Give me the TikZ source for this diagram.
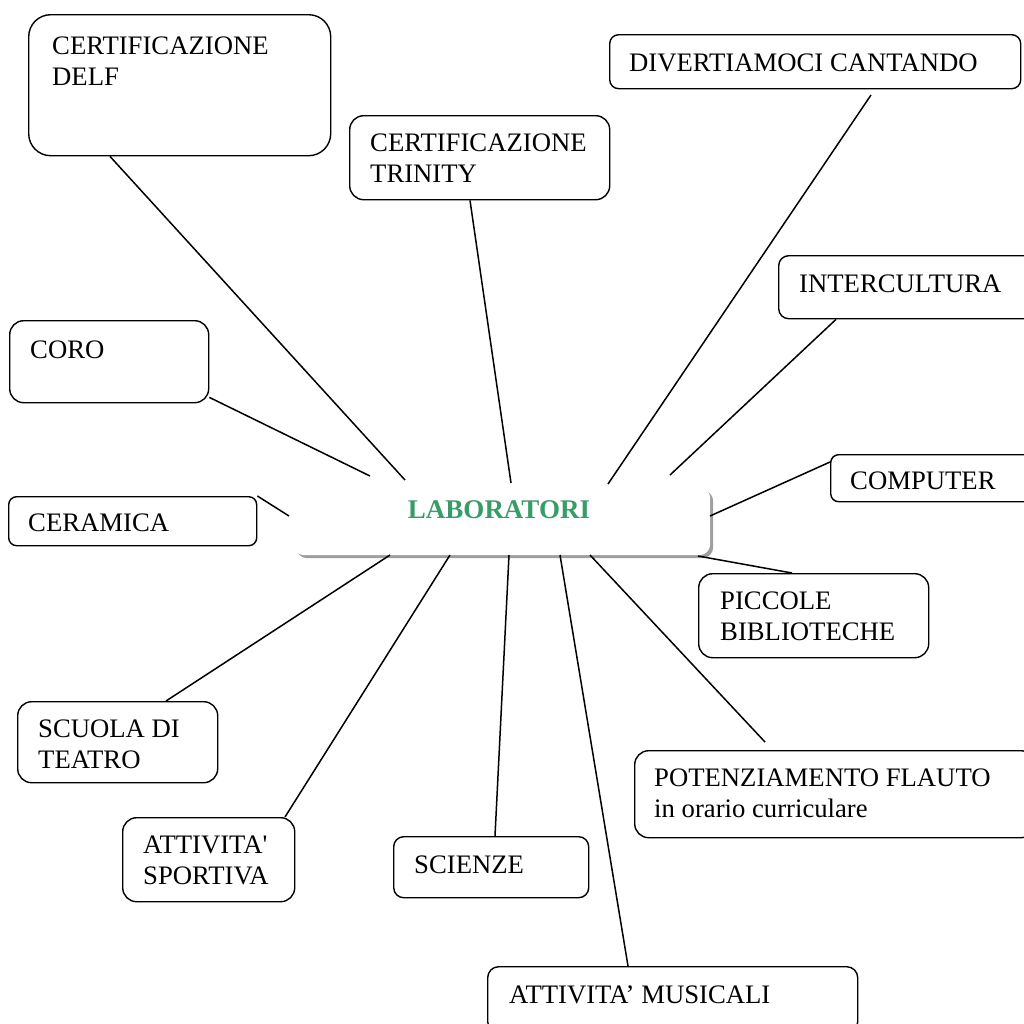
\documentclass[tikz,border=0pt]{standalone}
\usepackage{fontspec}
\setmainfont{Liberation Serif}
\usetikzlibrary{shadows}
\definecolor{labgreen}{RGB}{56,156,104}
\tikzset{
    box/.style={draw, line width=1.4pt, rounded corners=13pt, anchor=north west, inner sep=0pt},
    lbl/.style={anchor=base west, align=left, inner sep=0pt, font=\fontsize{26.7}{30.5}\selectfont},
    spoke/.style={line width=1.5pt},
    centre/.style={fill=white, rounded corners=11pt, anchor=north west, inner sep=0pt,
        drop shadow={shadow xshift=3pt, shadow yshift=-3pt, fill=black!38, opacity=1}}
}
\begin{document}
\begin{tikzpicture}[x=1pt,y=-1pt]
                \useasboundingbox (0,0) rectangle (1024,1023);
                \clip (0,0) rectangle (1024,1023);
                % the hub
                \node[centre, minimum width=417pt, minimum height=68pt] (lab) at (293,487) {};
                \node[anchor=base, inner sep=0pt, text=labgreen, font=\fontsize{27}{30}\selectfont\bfseries] (lab-t) at (499,518) {LABORATORI};
                % the boxes
                \node[box, rounded corners=22pt, minimum width=302pt, minimum height=141pt] (delf) at (28,14) {};
                \node[box, rounded corners=14pt, minimum width=260pt, minimum height=84pt] (trin) at (349,115) {};
                \node[box, rounded corners=9pt, minimum width=411pt, minimum height=54pt] (divert) at (609,34) {};
                \node[box, rounded corners=10pt, minimum width=260pt, minimum height=63pt] (inter) at (778,255) {};
                \node[box, rounded corners=14pt, minimum width=199pt, minimum height=82pt] (coro) at (9,320) {};
                \node[box, rounded corners=8pt, minimum width=248pt, minimum height=49pt] (ceram) at (8,496) {};
                \node[box, rounded corners=8pt, minimum width=210pt, minimum height=47pt] (comp) at (830,454) {};
                \node[box, rounded corners=14pt, minimum width=230pt, minimum height=84pt] (picc) at (698,573) {};
                \node[box, rounded corners=14pt, minimum width=200pt, minimum height=81pt] (scuola) at (17,701) {};
                \node[box, rounded corners=14pt, minimum width=400pt, minimum height=87pt] (potenz) at (634,750) {};
                \node[box, rounded corners=14pt, minimum width=172pt, minimum height=84pt] (sport) at (122,817) {};
                \node[box, rounded corners=10pt, minimum width=195pt, minimum height=61pt] (scien) at (393,836) {};
                \node[box, rounded corners=11pt, minimum width=370pt, minimum height=66pt] (music) at (487,966) {};
                % their texts (base = last line)
                \node[lbl] (delf-t) at (52,85) {CERTIFICAZIONE\\DELF};
                \node[lbl] (trin-t) at (370,182) {CERTIFICAZIONE\\TRINITY};
                \node[lbl] (divert-t) at (629,71) {DIVERTIAMOCI CANTANDO};
                \node[lbl] (inter-t) at (799,292) {INTERCULTURA};
                \node[lbl] (coro-t) at (30,358) {CORO};
                \node[lbl] (ceram-t) at (28,531) {CERAMICA};
                \node[lbl] (comp-t) at (850,489) {COMPUTER};
                \node[lbl] (picc-t) at (720,640) {PICCOLE\\BIBLIOTECHE};
                \node[lbl] (scuola-t) at (38,768) {SCUOLA DI\\TEATRO};
                \node[lbl] (potenz-t) at (654,817) {POTENZIAMENTO FLAUTO\\in orario curriculare};
                \node[lbl] (sport-t) at (143,884) {ATTIVITA\textquotesingle\\SPORTIVA};
                \node[lbl] (scien-t) at (414,873) {SCIENZE};
                \node[lbl] (music-t) at (509,1003) {ATTIVITA’ MUSICALI};
                % loose ends of the spokes
                \coordinate (divert-e) at (871,95);
                \coordinate (potenz-e) at (765,742);
                \coordinate (h-delf) at (405,480);
                \coordinate (h-trin) at (511,483);
                \coordinate (h-divert) at (608,484);
                \coordinate (h-inter) at (670,475);
                \coordinate (h-coro) at (370,476);
                \coordinate (h-ceram) at (289,516);
                \coordinate (h-comp) at (710,516);
                \coordinate (h-picc) at (698,556);
                \coordinate (h-scuola) at (390,555);
                \coordinate (h-sport) at (450,555);
                \coordinate (h-scien) at (509,555);
                \coordinate (h-music) at (560,555);
                \coordinate (h-potenz) at (590,555);
                % spokes
                \draw[spoke] ([xshift=82pt]delf.south west) -- (h-delf);
                \draw[spoke] ([xshift=121pt]trin.south west) -- (h-trin);
                \draw[spoke] (divert-e) -- (h-divert);
                \draw[spoke] ([xshift=58pt]inter.south west) -- (h-inter);
                \draw[spoke] ([yshift=6pt]coro.south east) -- (h-coro);
                \draw[spoke] (ceram.north east) -- (h-ceram);
                \draw[spoke] ([yshift=-8pt]comp.north west) -- (h-comp);
                \draw[spoke] ([xshift=94pt]picc.north west) -- (h-picc);
                \draw[spoke] ([xshift=149pt]scuola.north west) -- (h-scuola);
                \draw[spoke] ([xshift=163pt]sport.north west) -- (h-sport);
                \draw[spoke] ([xshift=102pt]scien.north west) -- (h-scien);
                \draw[spoke] ([xshift=141pt]music.north west) -- (h-music);
                \draw[spoke] (potenz-e) -- (h-potenz);
            \end{tikzpicture}
\end{document}
